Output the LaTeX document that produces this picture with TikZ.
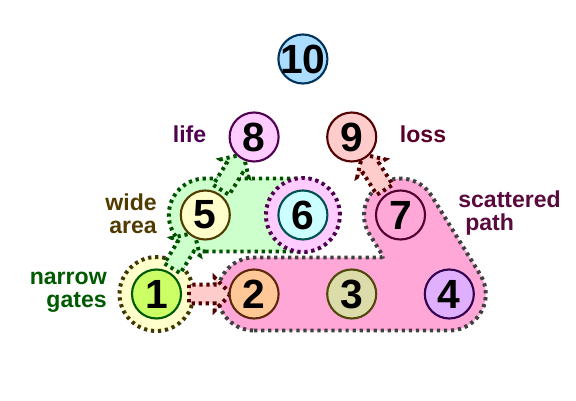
\documentclass[tikz,border=0pt]{standalone}
\usepackage{fontspec}
\setmainfont{Liberation Sans}
\usepackage{tikz}
\usetikzlibrary{shapes.arrows, backgrounds, calc}

\definecolor{zonegreen}{RGB}{204,255,204}
\definecolor{zonepink}{RGB}{255,168,216}
\definecolor{haloyellow}{RGB}{255,255,204}
\definecolor{halopink}{RGB}{255,204,255}
\definecolor{arrowpink}{RGB}{255,204,204}
\definecolor{edgegreen}{RGB}{0,80,0}
\definecolor{edgegray}{RGB}{64,64,64}
\definecolor{edgeolive}{RGB}{64,56,0}
\definecolor{edgeplum}{RGB}{80,0,80}
\definecolor{edgemaroon}{RGB}{80,0,0}
\definecolor{fillone}{RGB}{204,255,102}
\definecolor{filltwo}{RGB}{255,200,150}
\definecolor{fillthree}{RGB}{220,220,170}
\definecolor{fillfour}{RGB}{224,176,255}
\definecolor{fillsix}{RGB}{204,255,255}
\definecolor{fillten}{RGB}{170,221,255}
\definecolor{lineone}{RGB}{0,90,0}
\definecolor{linetwo}{RGB}{90,40,10}
\definecolor{linethree}{RGB}{80,72,10}
\definecolor{linefour}{RGB}{50,0,80}
\definecolor{linefive}{RGB}{80,60,0}
\definecolor{linesix}{RGB}{0,80,80}
\definecolor{lineseven}{RGB}{80,0,50}
\definecolor{lineten}{RGB}{0,50,90}
\definecolor{textloss}{RGB}{90,0,40}
\definecolor{textpath}{RGB}{90,10,60}

\tikzset{
  num/.style 2 args={circle, draw=#1, fill=#2, line width=1.5pt,
    minimum size=1.225cm, inner sep=-3pt,
    font=\fontsize{29}{29}\selectfont\bfseries},
  tag/.style={inner sep=0pt, font=\fontsize{16.4}{16.1}\selectfont\bfseries},
  dotline/.style={line width=2.8pt, dash pattern=on 2.3pt off 2.7pt},
  fatarrow/.style 2 args={single arrow, draw=#1, fill=#2, dotline,
    minimum height=1.05cm, inner xsep=0pt, inner ysep=5.3pt,
    single arrow head extend=5pt, sloped, allow upside down},
}

\begin{document}
\begin{tikzpicture}[x=0.025cm, y=0.025cm]
    \useasboundingbox (0,0) rectangle (576,400);
    \node[num={lineone}{fillone}] (n1) at (156.5,106) {1};
    \node[num={linetwo}{filltwo}] (n2) at (254.1,106) {2};
    \node[num={linethree}{fillthree}] (n3) at (351.7,106) {3};
    \node[num={linefour}{fillfour}] (n4) at (449.3,106) {4};
    \node[num={linefive}{haloyellow}] (n5) at (205.3,185) {5};
    \node[num={linesix}{fillsix}] (n6) at (302.9,185) {6};
    \node[num={lineseven}{zonepink}] (n7) at (400.5,185) {7};
    \node[num={edgeplum}{halopink}] (n8) at (254.1,263) {8};
    \node[num={edgemaroon}{arrowpink}] (n9) at (351.7,263) {9};
    \node[num={lineten}{fillten}] (n10) at (302.9,341) {10};

    \node[tag, text=lineone, align=right, anchor=east] (gates) at (107,107.5) {narrow\\gates};
    \node[tag, text=linefive, align=right, anchor=east] (area) at (157,186) {wide\\area};
    \node[tag, text=edgeplum] (life) at (189.5,266) {life};
    \node[tag, text=textloss] (loss) at (423,266) {loss};
    \node[tag, text=textpath, align=left, anchor=west] (path) at (458,187) {scattered\\\hspace{5pt}path};

    \coordinate (p7l) at ($(n7)+(211.7:36.5)$);
    \coordinate (p4l) at ($(n4)+(211.7:36.5)$);
    \coordinate (p2t) at ($(n2)+(0,36.5)$);
    \coordinate (p4t) at ($(n4)+(0,36.5)$);
    \coordinate (kink) at (intersection of p7l--p4l and p2t--p4t);

    \begin{scope}[on background layer]
      \draw[dotline, draw=edgegreen, fill=zonegreen]
        ($(n5)+(0,-36.5)$) -- ($(n6)+(0,-36.5)$) arc[start angle=-90, end angle=90, radius=36.5]
        -- ($(n5)+(0,36.5)$) arc[start angle=90, end angle=270, radius=36.5] -- cycle;
      \draw[dotline, draw=edgegray, fill=zonepink]
        ($(n2)+(0,-36.5)$) -- ($(n4)+(0,-36.5)$) arc[start angle=-90, end angle=31.7, radius=36.5]
        -- ($(n7)+(31.7:36.5)$) arc[start angle=31.7, end angle=211.7, radius=36.5]
        -- ($(kink)!5pt!(p7l)$) .. controls (kink) .. ($(kink)!5pt!(p2t)$)
        -- (p2t) arc[start angle=90, end angle=270, radius=36.5] -- cycle;
      \draw[dotline, draw=edgeolive, fill=haloyellow] (n1) circle[radius=37];
      \draw[dotline, draw=edgeplum, fill=halopink] (n6) circle[radius=37];
      \path (n1) -- node[fatarrow={edgemaroon}{arrowpink}] (a12) {} (n2);
      \path (n1) -- node[fatarrow={edgegreen}{zonegreen}] (a15) {} (n5);
      \path (n5) -- node[fatarrow={edgegreen}{zonegreen}] (a58) {} (n8);
      \path (n7) -- node[fatarrow={edgemaroon}{arrowpink}] (a79) {} (n9);
    \end{scope}
  \end{tikzpicture}
\end{document}
